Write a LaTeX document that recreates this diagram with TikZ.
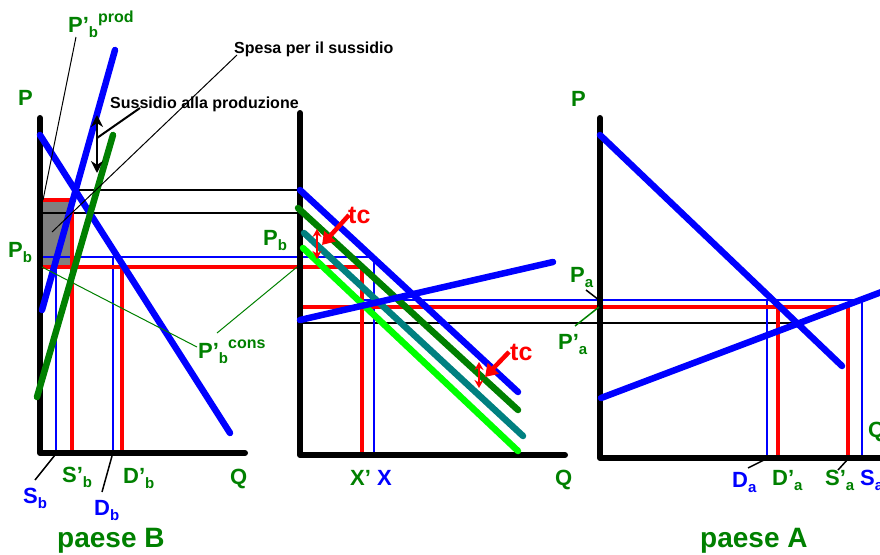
\documentclass[tikz,border=0pt]{standalone}
\usepackage{fontspec}
\setmainfont{Liberation Sans}
\usetikzlibrary{arrows.meta}

\definecolor{lblgreen}{RGB}{0,128,0}
\definecolor{curveblue}{RGB}{0,0,255}
\definecolor{curvered}{RGB}{255,0,0}
\definecolor{curveteal}{RGB}{0,128,128}
\definecolor{curvelime}{RGB}{0,255,0}
\definecolor{areagray}{RGB}{128,128,128}

\newcommand{\subl}[1]{\raisebox{-0.25em}{\fontsize{15}{15}\selectfont #1}}
\newcommand{\supl}[1]{\raisebox{0.45em}{\fontsize{16}{16}\selectfont #1}}

\tikzset{
	axis/.style={line width=6pt, line cap=round, line join=round},
	curve/.style={line width=6.5pt, line cap=round},
	redline/.style={curvered, line width=4pt},
	blueline/.style={curveblue, line width=2pt},
	guide/.style={black, line width=1.3pt},
	leader/.style={line width=1pt},
	tcshift/.style={curvered, line width=2.5pt, {Stealth[length=8pt,width=9pt]}-{Stealth[length=8pt,width=9pt]}},
	lbl/.style={font=\fontsize{22}{26}\selectfont\bfseries, inner sep=0pt, anchor=base west},
	title/.style={font=\fontsize{28}{32}\selectfont\bfseries, lblgreen, inner sep=0pt, anchor=base west},
	note/.style={font=\fontsize{16}{19}\selectfont\bfseries, inner sep=0pt, anchor=base west},
	tclbl/.style={font=\fontsize{25}{28}\selectfont\bfseries, curvered, inner sep=0pt, anchor=base west},
}

\begin{document}
\begin{tikzpicture}[x=1pt, y=-1pt]
	\useasboundingbox (0,0) rectangle (880,554);
	\clip (0,0) rectangle (880,554);

	% leader end points
	\coordinate (prodend)  at (43,200);
	\coordinate (spesaend) at (52,232);
	\coordinate (subsmid)  at (97,138);
	\coordinate (subsend)  at (140,108);
	\coordinate (consB)    at (42,267);
	\coordinate (consM)    at (297,267);
	\coordinate (sbfoot)   at (55,455);
	\coordinate (dbfoot)   at (112,456);
	\coordinate (pafoot)   at (599,300);
	\coordinate (papfoot)  at (599,307);
	\coordinate (dafoot)   at (764,460);
	\coordinate (sapfoot)  at (848,459);

	% subsidy area
	\fill[areagray] (42,200) rectangle (71,266);

	% price lines
	\draw[guide] (73,190) -- (300,190);
	\draw[guide] (40,213) -- (300,213);
	\draw[guide] (300,323) -- (795,323);

	\draw[blueline] (40,257) -- (374,257) -- (374,455);
	\draw[blueline] (56,257) -- (56,453);
	\draw[blueline] (113,257) -- (113,453);
	\draw[blueline] (364,300) -- (862,300) -- (862,458);
	\draw[blueline] (767,300) -- (767,458);

	\draw[redline] (40,200) -- (72,200) -- (72,453);
	\draw[redline] (40,267) -- (362,267) -- (362,455);
	\draw[redline] (122,267) -- (122,453);
	\draw[redline] (300,307) -- (848,307) -- (848,458);
	\draw[redline] (778,307) -- (778,458);

	% axes
	\draw[axis] (40,118) -- (40,453) -- (245,453);
	\draw[axis] (300,113) -- (300,455) -- (565,455);
	\draw[axis] (600,118) -- (600,458) -- (900,458);

	% paese B
	\draw[curve, curveblue] (40,135) -- (230,433);
	\draw[curve, curveblue] (115,50) -- (42,310);
	\draw[curve, lblgreen] (113,135) -- (37,397);

	% mercato
	\draw[curve, curveblue] (300,190) -- (518,392);
	\draw[curve, lblgreen] (298,208) -- (518,410);
	\draw[curve, curveteal] (304,233) -- (523,436);
	\draw[curve, curvelime] (303,248) -- (518,451);
	\draw[curve, curveblue] (300,320) -- (553,262);

	% paese A
	\draw[curve, curveblue] (600,135) -- (842,366);
	\draw[curve, curveblue] (601,398) -- (900,285);

	% arrows
	\draw[black, line width=2.5pt, {Stealth[length=12pt,width=12pt]}-{Stealth[length=12pt,width=12pt]}] (97,115) -- (97,173);
	\draw[black, line width=2pt] (subsmid) -- (subsend);

	\draw[tcshift] (317,229) -- (317,259);
	\draw[tcshift] (479,362) -- (479,388);

	% labels
	\node[lbl, lblgreen] (pB) at (18,105) {P};
	\node[lbl, lblgreen] (prodlbl) at (68,32) {P’\subl{b}\supl{prod}};
	\node[note] (subslbl) at (110,108) {Sussidio alla produzione};
	\node[note] (spesalbl) at (234,53) {Spesa per il sussidio};
	\node[lbl, lblgreen] (pbB) at (8,257) {P\subl{b}};
	\node[lbl, lblgreen] (conslbl) at (198,358) {P’\subl{b}\supl{cons}};
	\node[lbl, curveblue] (sb) at (23,503) {S\subl{b}};
	\node[lbl, lblgreen] (sbp) at (62,482) {S’\subl{b}};
	\node[lbl, curveblue] (db) at (94,515) {D\subl{b}};
	\node[lbl, lblgreen] (dbp) at (123,483) {D’\subl{b}};
	\node[lbl, lblgreen] (qB) at (230,484) {Q};
	\node[title] (paeseB) at (57,547) {paese B};

	\node[lbl, lblgreen] (pbM) at (263,245) {P\subl{b}};
	\node[tclbl] (tcup) at (348,223) {tc};
	\node[tclbl] (tcdown) at (510,360) {tc};
	\node[lbl, lblgreen] (xp) at (350,485) {X’};
	\node[lbl, curveblue] (xx) at (377,485) {X};
	\node[lbl, lblgreen] (qM) at (555,485) {Q};

	\node[lbl, lblgreen] (pA) at (571,106) {P};
	\node[lbl, lblgreen] (palbl) at (570,282) {P\subl{a}};
	\node[lbl, lblgreen] (paplbl) at (558,349) {P’\subl{a}};
	\node[lbl, curveblue] (da) at (732,487) {D\subl{a}};
	\node[lbl, lblgreen] (dap) at (772,485) {D’\subl{a}};
	\node[lbl, lblgreen] (sap) at (825,485) {S’\subl{a}};
	\node[lbl, curveblue] (sa) at (860,485) {S\subl{a}};
	\node[lbl, lblgreen] (qA) at (868,437) {Q};
	\node[title] (paeseA) at (700,547) {paese A};

	% tc arrows
	\draw[curvered, line width=4.5pt, -{Triangle[length=12pt,width=15pt]}] ([xshift=1pt]tcup.west) -- (322,245);
	\draw[curvered, line width=4.5pt, -{Triangle[length=12pt,width=15pt]}] ([xshift=-1pt]tcdown.west) -- (485,377);

	% leaders
	\draw[leader] ([xshift=8pt,yshift=-5pt]prodlbl.base west) -- (prodend);
	\draw[leader] ([xshift=3pt,yshift=-2pt]spesalbl.base west) -- (spesaend);
	\draw[leader, lblgreen] ([xshift=-1pt,yshift=11pt]conslbl.base west) -- (consB);
	\draw[leader, lblgreen] ([xshift=19pt,yshift=25pt]conslbl.base west) -- (consM);
	\draw[leader, line width=1.5pt] ([xshift=12pt,yshift=23pt]sb.base west) -- (sbfoot);
	\draw[leader, line width=1.5pt] ([xshift=8pt,yshift=23pt]db.base west) -- (dbfoot);
	\draw[leader, line width=1.5pt] ([xshift=16pt,yshift=-8pt]palbl.base west) -- (pafoot);
	\draw[leader, lblgreen, line width=1.5pt] ([xshift=17pt,yshift=23pt]paplbl.base west) -- (papfoot);
	\draw[leader, line width=1.5pt] ([xshift=16pt,yshift=19pt]da.base west) -- (dafoot);
	\draw[leader, line width=1.5pt] ([xshift=13pt,yshift=15pt]sap.base west) -- (sapfoot);
\end{tikzpicture}
\end{document}
